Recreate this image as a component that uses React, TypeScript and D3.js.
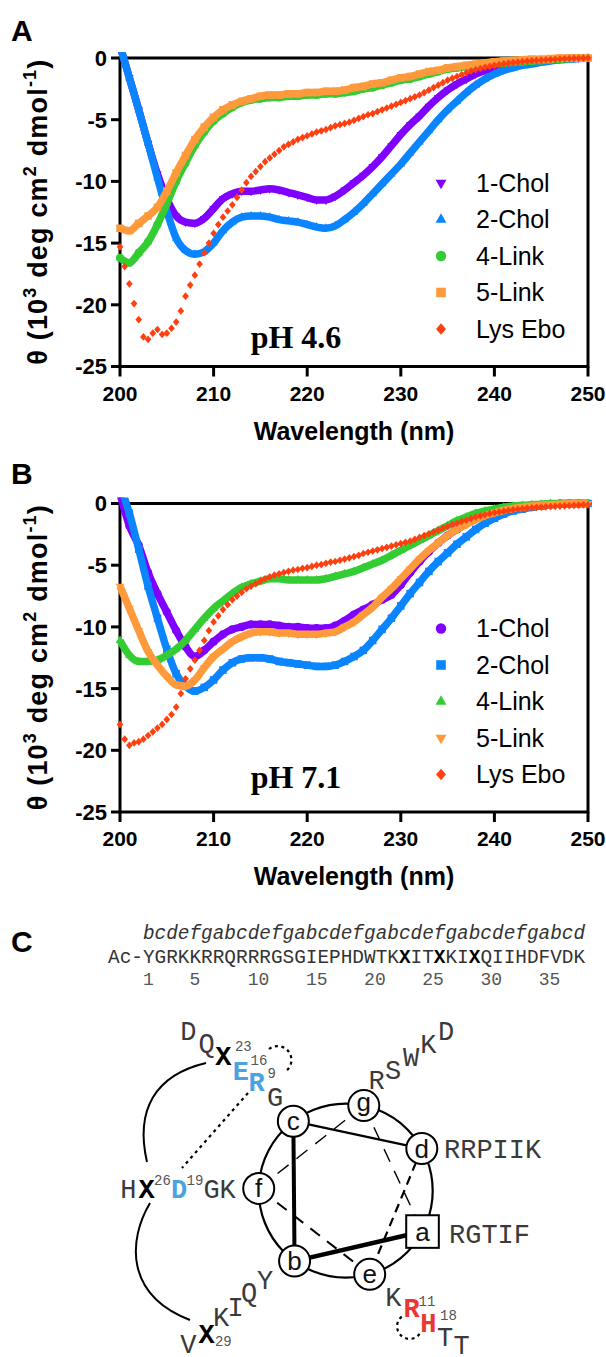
import React from "react";
import * as d3 from "d3";

// wavelength grids (nm)
const wl1nm = d3.range(0, 51).map((i) => 200 + i);
const wlHalf = d3.range(0, 101).map((i) => 200 + i * 0.5);

const seriesNames = ["1-Chol", "2-Chol", "4-Link", "5-Link", "Lys Ebo"];
const seriesColors = ["#8000ff", "#0a84ff", "#33cc33", "#ff9a3c", "#ff3f0f"];
const shapesA = ["triangleDown", "triangle", "circle", "square", "diamond"];
const shapesB = ["circle", "square", "triangle", "triangleDown", "diamond"];

const xTicks = [200, 210, 220, 230, 240, 250];
const yTicks = [0, -5, -10, -15, -20, -25];

// ---- pH 4.6 (1 nm steps, 200-250) ----
const a1Chol = [
  1.0, -1.6, -4.2, -6.9, -9.4, -11.4, -12.8, -13.3, -13.4, -13.0, -12.2,
  -11.4, -11.0, -10.8, -10.8, -10.7, -10.6, -10.7, -10.9, -11.1, -11.3,
  -11.5, -11.5, -11.2, -10.7, -10.1, -9.5, -8.8, -8.0, -7.1, -6.2,
  -5.4, -4.7, -3.9, -3.2, -2.6, -2.1, -1.7, -1.3, -1.0, -0.8,
  -0.6, -0.5, -0.4, -0.3, -0.2, -0.15, -0.1, -0.05, 0, 0,
];
const a2Chol = [
  1.0, -1.6, -4.2, -6.9, -9.7, -12.4, -14.6, -15.6, -15.9, -15.7, -15.0,
  -14.0, -13.3, -12.9, -12.8, -12.8, -12.9, -13.1, -13.2, -13.3, -13.5,
  -13.7, -13.8, -13.6, -13.1, -12.5, -11.8, -11.0, -10.2, -9.4, -8.6,
  -7.7, -6.8, -5.9, -5.0, -4.2, -3.5, -2.8, -2.2, -1.7, -1.3,
  -1.0, -0.8, -0.6, -0.5, -0.35, -0.25, -0.15, -0.1, -0.05, 0,
];
const a4Link = [
  -16.2, -16.6, -15.8, -14.9, -13.5, -11.8, -10.0, -8.5, -7.1, -6.0, -5.1,
  -4.5, -4.0, -3.6, -3.4, -3.3, -3.2, -3.2, -3.1, -3.1, -3.0,
  -3.0, -2.9, -2.9, -2.8, -2.7, -2.5, -2.4, -2.2, -2.0, -1.8,
  -1.7, -1.5, -1.3, -1.1, -0.9, -0.8, -0.7, -0.6, -0.5, -0.45,
  -0.4, -0.35, -0.3, -0.25, -0.2, -0.15, -0.1, -0.05, 0, 0,
];
const a5Link = [
  -13.8, -14.0, -13.4, -12.8, -12.1, -10.8, -9.3, -7.9, -6.6, -5.6, -4.8,
  -4.2, -3.8, -3.5, -3.3, -3.1, -3.0, -3.0, -2.9, -2.9, -2.8,
  -2.8, -2.7, -2.7, -2.6, -2.4, -2.3, -2.1, -2.0, -1.8, -1.6,
  -1.5, -1.3, -1.1, -1.0, -0.8, -0.7, -0.6, -0.5, -0.4, -0.3,
  -0.25, -0.2, -0.15, -0.1, -0.1, -0.05, 0, 0, 0, 0,
];
// Lys Ebo, 0.5 nm steps
const aLysEbo = [
  -15.3, -16.9, -18.3, -19.9, -21.2, -22.6, -22.8, -22.3, -22.0, -22.4,
  -22.3, -21.9, -21.4, -20.5, -19.3, -18.4, -17.6, -16.7, -15.8, -15.0,
  -14.2, -13.5, -12.9, -12.4, -11.9, -11.3, -10.7, -10.1, -9.6, -9.2,
  -8.8, -8.4, -8.1, -7.8, -7.5, -7.2, -7.0, -6.8, -6.6, -6.45,
  -6.3, -6.15, -6.0, -5.9, -5.8, -5.65, -5.5, -5.4, -5.3, -5.2,
  -5.05, -4.9, -4.75, -4.6, -4.5, -4.35, -4.2, -4.05, -3.9, -3.75,
  -3.6, -3.45, -3.3, -3.15, -3.0, -2.8, -2.6, -2.4, -2.2, -2.0,
  -1.8, -1.65, -1.5, -1.35, -1.2, -1.05, -0.95, -0.85, -0.75, -0.68,
  -0.6, -0.53, -0.47, -0.42, -0.37, -0.33, -0.3, -0.26, -0.23, -0.2,
  -0.17, -0.14, -0.12, -0.1, -0.08, -0.06, -0.04, -0.03, -0.02, -0.01,
  0,
];

// ---- pH 7.1 ----
const b1Chol = [
  0.8, -1.8, -3.4, -5.6, -7.3, -8.8, -10.3, -11.6, -12.4, -11.9, -11.2,
  -10.6, -10.2, -10.0, -9.8, -9.8, -9.8, -9.9, -10.0, -10.0, -10.1,
  -10.1, -10.1, -9.9, -9.5, -9.0, -8.6, -8.2, -7.8, -7.4, -6.6,
  -5.6, -4.7, -3.9, -3.2, -2.6, -2.1, -1.6, -1.2, -0.9, -0.7,
  -0.5, -0.35, -0.25, -0.15, -0.1, -0.05, 0, 0, 0, 0,
];
const b2Chol = [
  1.5, -0.8, -3.7, -6.7, -9.3, -11.8, -13.8, -14.8, -15.2, -14.9, -14.3,
  -13.5, -12.9, -12.6, -12.5, -12.5, -12.6, -12.8, -12.9, -13.0, -13.1,
  -13.2, -13.2, -13.1, -12.8, -12.4, -11.9, -11.1, -10.2, -9.3, -8.3,
  -7.3, -6.4, -5.5, -4.7, -4.0, -3.3, -2.7, -2.1, -1.6, -1.2,
  -0.85, -0.6, -0.45, -0.3, -0.2, -0.1, -0.05, 0, 0, 0,
];
const b4Link = [
  -11.1, -12.3, -12.8, -12.8, -12.7, -12.3, -11.8, -11.1, -10.2, -9.3, -8.5,
  -7.9, -7.3, -6.8, -6.5, -6.3, -6.1, -6.1, -6.2, -6.2, -6.2,
  -6.2, -6.1, -5.9, -5.7, -5.5, -5.2, -4.9, -4.6, -4.2, -3.8,
  -3.4, -3.0, -2.6, -2.2, -1.8, -1.4, -1.1, -0.8, -0.6, -0.45,
  -0.3, -0.2, -0.15, -0.1, -0.05, 0, 0, 0, 0, 0,
];
const b5Link = [
  -6.7, -8.5, -10.3, -12.0, -13.1, -14.0, -14.7, -14.8, -14.3, -13.3, -12.4,
  -11.8, -11.2, -10.8, -10.5, -10.4, -10.4, -10.5, -10.5, -10.6, -10.6,
  -10.6, -10.5, -10.4, -10.0, -9.6, -9.0, -8.4, -7.6, -6.9, -6.1,
  -5.3, -4.5, -3.8, -3.2, -2.6, -2.1, -1.7, -1.3, -1.0, -0.75,
  -0.55, -0.4, -0.3, -0.2, -0.15, -0.1, -0.05, 0, 0, 0,
];
const bLysEbo = [
  -17.9, -19.1, -19.6, -19.4, -19.3, -19.1, -18.8, -18.5, -18.2, -17.9,
  -17.5, -17.1, -16.5, -15.4, -14.2, -13.4, -12.7, -11.9, -11.1, -10.3,
  -9.6, -9.1, -8.6, -8.2, -7.8, -7.5, -7.2, -6.9, -6.7, -6.5,
  -6.3, -6.1, -5.95, -5.8, -5.7, -5.6, -5.5, -5.4, -5.35, -5.25,
  -5.2, -5.1, -5.0, -4.95, -4.85, -4.75, -4.7, -4.6, -4.5, -4.4,
  -4.3, -4.2, -4.05, -3.95, -3.85, -3.75, -3.65, -3.55, -3.45, -3.35,
  -3.25, -3.15, -3.05, -2.9, -2.75, -2.6, -2.45, -2.3, -2.15, -2.0,
  -1.85, -1.7, -1.6, -1.45, -1.35, -1.2, -1.1, -1.0, -0.9, -0.82,
  -0.75, -0.68, -0.62, -0.56, -0.5, -0.46, -0.42, -0.38, -0.35, -0.32,
  -0.3, -0.27, -0.25, -0.23, -0.21, -0.19, -0.17, -0.15, -0.13, -0.11,
  -0.1,
];

const panelAData = [a1Chol, a2Chol, a4Link, a5Link, aLysEbo];
const panelBData = [b1Chol, b2Chol, b4Link, b5Link, bLysEbo];

// ---- panel C ----
const heptadRegister = "bcdefgabcdefgabcdefgabcdefgabcdefgabcd";
const sequence = "Ac-YGRKKRRQRRRGSGIEPHDWTKXITXKIXQIIHDFVDK";
const residueNumbers = [1, 5, 10, 15, 20, 25, 30, 35];
const heptad = ["a", "b", "c", "d", "e", "f", "g"];
const heptadAngle = [28, 126, 233, 331, 74, 181.5, 282];

const SANS = "'Liberation Sans', Arial, Helvetica, sans-serif";
const MONO = "'Liberation Mono', 'Courier New', monospace";
const SERIF = "'Liberation Serif', 'Times New Roman', serif";

const X0 = 120;
const X1 = 588;

function markerPath(kind: string, r: number) {
  if (kind === "circle") return d3.symbol(d3.symbolCircle, Math.PI * r * r)() as string;
  if (kind === "square") return d3.symbol(d3.symbolSquare, 4 * r * r * 0.85)() as string;
  if (kind === "diamond") return `M0,${-r * 1.1}L${r * 0.95},0L0,${r * 1.1}L${-r * 0.95},0Z`;
  return d3.symbol(d3.symbolTriangle, r * r * Math.sqrt(3) * 1.1)() as string;
}

function Marker({ kind, x, y, r, color }: any) {
  const rot = kind === "triangleDown" ? " rotate(180)" : "";
  return <path d={markerPath(kind, r)} transform={`translate(${x},${y})${rot}`} fill={color} />;
}

function CDPanel({ top, data, shapes, phLabel, phBaseline, letter, letterBaseline }: any) {
  const bottom = top + 308.5;
  const x = d3.scaleLinear().domain([200, 250]).range([X0, X1]);
  const y = d3.scaleLinear().domain([-25, 0]).range([bottom, top]);
  const line = d3
    .line<number>()
    .x((_, i) => x(wl1nm[i]))
    .y((d) => y(d))
    .curve(d3.curveMonotoneX);
  const clipId = `clip-${letter}`;
  const midY = (top + bottom) / 2;

  return (
    <g fontFamily={SANS}>
      <defs>
        <clipPath id={clipId}>
          <rect x={X0 - 6} y={top - 6} width={X1 - X0 + 12} height={bottom - top + 12} />
        </clipPath>
      </defs>
      <text x={11} y={letterBaseline} fontSize={30} fontWeight="bold">{letter}</text>

      <rect x={X0} y={top} width={X1 - X0} height={bottom - top} fill="none" stroke="#000" strokeWidth={3} />
      {xTicks.map((t) => (
        <g key={"x" + t}>
          <line x1={x(t)} x2={x(t)} y1={bottom} y2={bottom + 10} stroke="#000" strokeWidth={3} />
          <text x={x(t)} y={bottom + 34} textAnchor="middle" fontSize={21} fontWeight="bold">{t}</text>
        </g>
      ))}
      {yTicks.map((t) => (
        <g key={"y" + t}>
          <line x1={X0 - 9} x2={X0} y1={y(t)} y2={y(t)} stroke="#000" strokeWidth={3} />
          <text x={107} y={y(t)} dy="0.36em" textAnchor="end" fontSize={22} fontWeight="bold">{String(t)}</text>
        </g>
      ))}

      <text
        transform={`translate(47,${midY}) rotate(-90)`}
        textAnchor="middle"
        fontSize={27}
        fontWeight="bold"
        textLength={305}
        lengthAdjust="spacing"
      >
        θ (10<tspan dy={-11} fontSize={18}>3</tspan>
        <tspan dy={11}> deg cm</tspan>
        <tspan dy={-11} fontSize={18}>2</tspan>
        <tspan dy={11}> dmol</tspan>
        <tspan dy={-11} fontSize={18}>-1</tspan>
        <tspan dy={11}>)</tspan>
      </text>
      <text x={(X0 + X1) / 2} y={bottom + 73} textAnchor="middle" fontSize={25} fontWeight="bold">
        Wavelength (nm)
      </text>

      <g clipPath={`url(#${clipId})`}>
        {data.map((vals: number[], si: number) => {
          const color = seriesColors[si];
          if (vals.length === wlHalf.length) {
            return (
              <g key={si}>
                {vals.map((v, i) => (
                  <Marker key={i} kind={shapes[si]} x={x(wlHalf[i])} y={y(v)} r={3.5} color={color} />
                ))}
              </g>
            );
          }
          return (
            <g key={si}>
              <path d={line(vals) as string} fill="none" stroke={color} strokeWidth={7.5} strokeLinejoin="round" />
              {vals.map((v, i) => (
                <Marker key={i} kind={shapes[si]} x={x(wl1nm[i])} y={y(v)} r={4.1} color={color} />
              ))}
            </g>
          );
        })}
      </g>

      {seriesNames.map((name, i) => {
        const ly = top + 125 + i * 36.5;
        return (
          <g key={name}>
            <Marker kind={shapes[i]} x={441} y={ly} r={5.2} color={seriesColors[i]} />
            <text x={476} y={ly} dy="0.35em" fontSize={25}>{name}</text>
          </g>
        );
      })}

      <text x={296} y={phBaseline} textAnchor="middle" fontFamily={SERIF} fontWeight="bold" fontSize={32}>
        {phLabel}
      </text>
    </g>
  );
}

const wheelLabels: any[] = [
  { t: "R", x: 376.7, y: 1080 }, { t: "S", x: 393, y: 1070.5 }, { t: "W", x: 411, y: 1057.5 },
  { t: "K", x: 428.3, y: 1044.5 }, { t: "D", x: 446, y: 1031.5 },
  { t: "RRPIIK", x: 444, y: 1149.5, anchor: "start" },
  { t: "RGTIF", x: 449, y: 1234, anchor: "start" },
  { t: "K", x: 393.3, y: 1296.7 }, { t: "R", x: 411.7, y: 1308.3, kind: "red" },
  { t: "11", x: 427, y: 1301, kind: "sup" }, { t: "H", x: 428.3, y: 1323.3, kind: "red" },
  { t: "18", x: 448.5, y: 1315, kind: "sup" }, { t: "T", x: 445, y: 1337 }, { t: "T", x: 461.7, y: 1345 },
  { t: "D", x: 188.3, y: 1031 }, { t: "Q", x: 206.5, y: 1043.5 }, { t: "X", x: 223.3, y: 1056.5, kind: "x" },
  { t: "23", x: 243.3, y: 1046.5, kind: "sup" }, { t: "E", x: 240.8, y: 1070.7, kind: "blue" },
  { t: "16", x: 259, y: 1060, kind: "sup" }, { t: "R", x: 256.7, y: 1081.7, kind: "blue" },
  { t: "9", x: 271.7, y: 1072.7, kind: "sup" }, { t: "G", x: 275, y: 1096.7 },
  { t: "H", x: 128.3, y: 1189 }, { t: "X", x: 146.7, y: 1189, kind: "x" }, { t: "26", x: 162.5, y: 1180, kind: "sup" },
  { t: "D", x: 179, y: 1189, kind: "blue" }, { t: "19", x: 195, y: 1180, kind: "sup" },
  { t: "G", x: 211.7, y: 1189 }, { t: "K", x: 227.5, y: 1189 },
  { t: "V", x: 188.3, y: 1344 }, { t: "X", x: 206.7, y: 1334, kind: "x" }, { t: "29", x: 223.3, y: 1341, kind: "sup" },
  { t: "K", x: 221, y: 1317.5 }, { t: "I", x: 235.5, y: 1307.5 }, { t: "Q", x: 249, y: 1292.5 }, { t: "Y", x: 265, y: 1280 },
];

// a-b, b-c, c-d, d-e, e-f, f-g, g-a
const wheelLinks = [
  { w: 4.5, dash: "" }, { w: 4, dash: "" }, { w: 2.3, dash: "" },
  { w: 2.2, dash: "9 6" }, { w: 2, dash: "12 9" }, { w: 1.4, dash: "14 10" }, { w: 1.4, dash: "14 10" },
];

function PanelC() {
  const cw = 19.4 * 0.6;
  const seqX = 108;
  const cx = 345.7, cy = 1190.7, R = 87;
  const nodes = heptad.map((h, i) => {
    const a = (heptadAngle[i] * Math.PI) / 180;
    return { h, x: cx + R * Math.cos(a), y: cy + R * Math.sin(a) };
  });
  const segs: { s: string; bold: boolean }[] = [];
  for (const ch of sequence) {
    const bold = ch === "X";
    const last = segs[segs.length - 1];
    if (last && last.bold === bold) last.s += ch;
    else segs.push({ s: ch, bold });
  }
  const styleOf = (k?: string) => {
    if (k === "x") return { fill: "#000", fontWeight: "bold" };
    if (k === "blue") return { fill: "#4aa3df", fontWeight: "bold" };
    if (k === "red") return { fill: "#ee3535", fontWeight: "bold" };
    return { fill: "#3a3a3a", fontWeight: "normal" };
  };

  return (
    <g>
      <text x={11} y={952} fontSize={30} fontWeight="bold" fontFamily={SANS}>C</text>
      <text x={seqX + 3 * cw} y={939} fontFamily={MONO} fontStyle="italic" fontSize={19.4} fill="#333">
        {heptadRegister}
      </text>
      <text x={seqX} y={963} fontFamily={MONO} fontSize={19.4} fill="#333">
        {segs.map((g, i) => (
          <tspan key={i} fontWeight={g.bold ? "bold" : "normal"} fill={g.bold ? "#000" : "#333"}>{g.s}</tspan>
        ))}
      </text>
      {residueNumbers.map((n) => (
        <text key={n} x={seqX + (2 + n) * cw} y={985} fontFamily={MONO} fontSize={18} fill="#555">{n}</text>
      ))}

      {/* helical wheel */}
      <circle cx={cx} cy={cy} r={R} fill="none" stroke="#000" strokeWidth={2.2} />
      {wheelLinks.map((l, i) => {
        const p = nodes[i], q = nodes[(i + 1) % 7];
        return (
          <line key={i} x1={p.x} y1={p.y} x2={q.x} y2={q.y} stroke="#000" strokeWidth={l.w}
            strokeDasharray={l.dash || undefined} />
        );
      })}
      {nodes.map((n) =>
        n.h === "a" ? (
          <rect key={n.h} x={n.x - 16.3} y={n.y - 16.3} width={32.6} height={32.6} fill="#fff" stroke="#000" strokeWidth={2} />
        ) : (
          <circle key={n.h} cx={n.x} cy={n.y} r={15.5} fill="#fff" stroke="#000" strokeWidth={2} />
        )
      )}
      {nodes.map((n) => (
        <text key={"t" + n.h} x={n.x} y={n.y + (n.h === "g" ? 5 : 9)} textAnchor="middle" fontFamily={SANS} fontSize={26} fill="#111">
          {n.h}
        </text>
      ))}

      {/* connectors */}
      <path d="M206,1063 C155,1075 135,1110 147,1162" fill="none" stroke="#000" strokeWidth={2} />
      <path d="M150,1203 C128,1240 125,1295 190,1320" fill="none" stroke="#000" strokeWidth={2} />
      <line x1={248} y1={1093} x2={182} y2={1168} stroke="#000" strokeWidth={2.2} strokeDasharray="3 4" />
      <path d="M269,1049 A12,12 0 1 1 286,1071" fill="none" stroke="#000" strokeWidth={2.2} strokeDasharray="3 3.5" />
      <path d="M401.7,1316.7 A12.5,12.5 0 1 0 420,1333.3" fill="none" stroke="#000" strokeWidth={2.2} strokeDasharray="3 3.5" />

      {wheelLabels.map((l, i) =>
        l.kind === "sup" ? (
          <text key={i} x={l.x} y={l.y} dy="0.35em" textAnchor="middle" fontFamily={MONO} fontSize={14} fill="#555">{l.t}</text>
        ) : (
          <text key={i} x={l.x} y={l.y} dy="0.33em" textAnchor={l.anchor || "middle"} fontFamily={MONO} fontSize={27}
            {...styleOf(l.kind)}>
            {l.t}
          </text>
        )
      )}
    </g>
  );
}

export default function App() {
  return (
    <svg width={606} height={1357} viewBox="0 0 606 1357"
      style={{ position: "absolute", left: 0, top: 0, display: "block", background: "#fff" }}>
      <rect width={606} height={1357} fill="#fff" />
      <CDPanel top={58} data={panelAData} shapes={shapesA} phLabel="pH 4.6" phBaseline={348} letter="A" letterBaseline={41} />
      <CDPanel top={503.5} data={panelBData} shapes={shapesB} phLabel="pH 7.1" phBaseline={788} letter="B" letterBaseline={484} />
      <PanelC />
    </svg>
  );
}
